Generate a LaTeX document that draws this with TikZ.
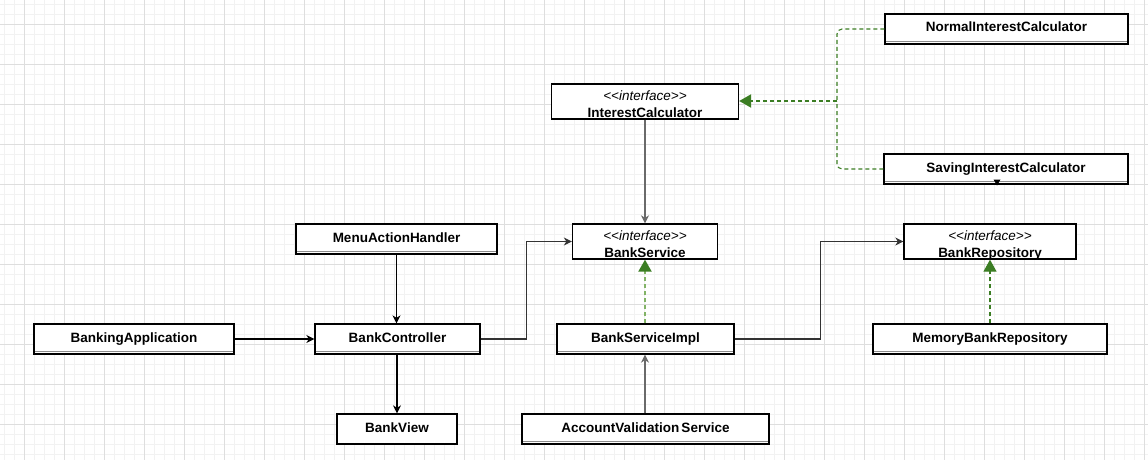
\documentclass[tikz,border=0pt]{standalone}
\usepackage{fontspec}
\setmainfont{Liberation Sans}
\usetikzlibrary{arrows.meta,calc}
\definecolor{gmajor}{HTML}{DEDEDE}
\definecolor{gminor}{HTML}{F2F2F2}
\definecolor{dkgreen}{HTML}{3B7D23}
\definecolor{ltgreen}{HTML}{82B366}
\definecolor{linegray}{HTML}{6A6A6A}
\tikzset{
  box/.style={draw=black, line width=1.3pt, fill=white, inner sep=0pt,
    text height=0pt, text depth=0pt,
    font=\fontsize{13.5}{17}\selectfont\bfseries},
  cls/.style={box, path picture={\draw[black!45, line width=0.7pt]
     ([yshift=2.3pt]path picture bounding box.south west) --
     ([yshift=2.3pt]path picture bounding box.south east);}},
  iface/.style={box},
  assoc/.style={draw=black, line width=1.2pt, -{Stealth[length=8pt,width=8pt,inset=2.5pt]}},
  assocg/.style={assoc, draw=linegray, line width=2pt},
  realize/.style={draw=dkgreen, line width=1.1pt, dash pattern=on 4pt off 3pt,
    -{Triangle[length=12pt,width=13pt,color=dkgreen,fill=dkgreen]}},
  realizel/.style={realize, draw=ltgreen, line width=2pt,
    -{Triangle[length=12pt,width=13pt,color=dkgreen,fill=dkgreen]}},
}
\newcommand{\onel}[1]{\makebox[0pt]{\raisebox{-3pt}{#1}}}
\newcommand{\ifc}[1]{\makebox[0pt]{\raisebox{1.5pt}{\mdseries\itshape <{}<interface>{}>}}\makebox[0pt]{\raisebox{-15.5pt}{#1}}}
\begin{document}
\begin{tikzpicture}[x=1pt,y=-1pt]
\useasboundingbox (0,0) rectangle (1148,460);
\fill[white] (0,0) rectangle (1148,460);
\foreach \x in {4,14,...,1144} \draw[gminor, line width=0.8pt] (\x,0) -- (\x,460);
\foreach \y in {4,14,...,454} \draw[gminor, line width=0.8pt] (0,\y) -- (1148,\y);
\foreach \x in {24,64,...,1144} \draw[gmajor, line width=0.9pt] (\x,0) -- (\x,460);
\foreach \y in {24,64,...,444} \draw[gmajor, line width=0.9pt] (0,\y) -- (1148,\y);

% nodes
\node[cls, minimum width=243pt, minimum height=30pt] (nic) at (1006.5,29) {\onel{NormalInterestCalculator}};
\node[iface, minimum width=187pt, minimum height=35pt] (ic) at (645,101.5) {\ifc{InterestCalculator}};
\node[cls, minimum width=244pt, minimum height=30pt] (sic) at (1006,169) {\onel{SavingInterestCalculator}};
\node[cls, minimum width=201pt, minimum height=30pt] (mah) at (396.5,239) {\onel{MenuActionHandler}};
\node[iface, minimum width=145pt, minimum height=35pt] (bs) at (645,241.5) {\ifc{BankService}};
\node[iface, minimum width=172pt, minimum height=35pt] (br) at (990,241.5) {\ifc{BankRepository}};
\node[cls, minimum width=200pt, minimum height=30pt] (ba) at (134,339) {\onel{BankingApplication}};
\node[cls, minimum width=165pt, minimum height=30pt] (bc) at (397.5,339) {\onel{BankController}};
\node[cls, minimum width=177pt, minimum height=30pt] (bsi) at (645.5,339) {\onel{BankServiceImpl}};
\node[cls, minimum width=234pt, minimum height=30pt] (mbr) at (990,339) {\onel{MemoryBankRepository}};
\node[box, minimum width=120pt, minimum height=30pt] (bv) at (397,429) {\onel{BankView}};
\node[cls, minimum width=247pt, minimum height=30pt] (avs) at (645.5,429) {\onel{AccountValidation\,Service}};

% stray arrowhead under SavingInterestCalculator
\fill[black] (993.5,179.5) -- (1000.5,179.5) -- (997,185.5) -- cycle;

% connectors
\coordinate (j) at (837,101);
\draw[draw=dkgreen, line width=1.1pt, dash pattern=on 4pt off 3pt, rounded corners=5pt]
  (nic.west) -| (j);
\draw[draw=dkgreen, line width=1.1pt, dash pattern=on 4pt off 3pt, rounded corners=5pt]
  (sic.west) -| (j);
\draw[realize, line width=2pt] (j) -- (j -| ic.east);

\draw[assocg] (ic.south) -- (bs.north);
\draw[assoc] (mah.south) -- (mah.south |- bc.north);
\draw[assoc] (ba.east) -- (bc.west);
\draw[assoc, draw=black!80] (bc.east) -- ++(46,0) |- (bs.west);
\draw[assoc] (bc.south -| bv.north) -- (bv.north);
\draw[realizel] (bsi.north -| bs.south) -- (bs.south);
\draw[assoc, draw=black!80] (bsi.east) -- ++(86,0) |- (br.west);
\draw[assocg] (avs.north -| bs.south) -- (bsi.south -| bs.south);
\draw[realize] (mbr.north) -- (br.south);
\end{tikzpicture}
\end{document}
